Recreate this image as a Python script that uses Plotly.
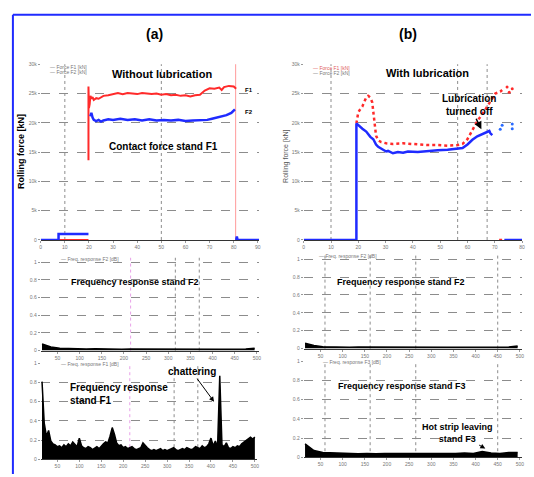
import plotly.graph_objects as go

W, H = 534, 477

# ---------------- data ----------------
# (a) top: rolling force without lubrication  (time s, force kN)
a_blue_t = [0, 7.4, 7.4, 19.8, None, 20.6, 21.0, 21.5, 22.0, 23.0, 24.0, 25.0, 26.0, 28.0, 30.0, 33.0, 36.0, 39.0,
            42.0, 45.0, 48.0, 51.0, 54.0, 57.0, 60.0, 63.0, 66.0, 69.0, 71.0, 73.0, 75.0, 77.0, 79.0, 80.5, None, 81.0, 81.3, 81.6, 90.5]
a_blue_f = [0, 0, 1000, 1000, None, 21100, 21700, 20900, 20500, 20300, 20500, 20200, 20400, 20600, 20500, 20700, 20500,
            20600, 20400, 20600, 20400, 20500, 20400, 20500, 20300, 20400, 20500, 20500, 20700, 20900, 21100, 21300, 21700, 22300,
            None, 0, 600, 0, 0]
a_red_t = [7.4, 19.8, None, 19.8, 19.8, 20.0, 20.3, 20.6, 21.0, 21.5, 22.0, 23.0, 24.0, 25.0, 26.0, 28.0, 30.0, 32.0, 34.0,
           36.0, 38.0, 40.0, 42.0, 44.0, 46.0, 48.0, 50.0, 52.0, 54.0, 56.0, 58.0, 60.0, 62.0, 64.0, 66.0, 68.0, 70.0,
           72.0, 74.0, 75.0, 76.0, 78.0, 80.0, 81.0, None, 81.0, 82.0]
a_red_f = [0, 0, None, 13600, 26200, 22500, 23200, 24600, 24100, 24400, 23900, 24200, 24100, 24400, 24600, 24700, 24900,
           25100, 24900, 25100, 25000, 24900, 25100, 25000, 24900, 25000, 24800, 24900, 24700, 24800, 24600, 24700, 24500,
           24700, 24800, 25500, 25900, 25800, 26000, 25600, 26100, 26300, 26200, 25800, None, 0, 0]

# (b) top: rolling force with lubrication
b_blue_t = [0, 19.3, 19.3, 20.0, 20.7, 21.5, 22.9, 24.4, 25.5, 26.5, 27.3, 28.4, 29.1, 30.2, 30.9, 32.7, 34.5, 36.4,
            38.2, 41.8, 45.5, 49.1, 52.7, 56.4, 58.2, 60.0, 61.8, 63.6, 66.2, 68.0, 68.4, 69.1, None, 73.5, 80.0]
b_blue_f = [0, 0, 19900, 19600, 19200, 19000, 18500, 17600, 17200, 16300, 15900, 15500, 15400, 15100, 15200, 14800,
            15000, 14900, 15100, 15000, 15200, 15300, 15400, 15600, 15700, 16300, 17100, 17700, 18200, 18600, 18200,
            17900, None, 0, 0]
b_blue_pts_t = [72.0, 72.7, 76.4, 76.4]
b_blue_pts_f = [18900, 19600, 19000, 19800]
b_red_t = [19.3, 19.6, 20.0, 20.7, 21.5, 22.2, 22.9, 23.6, 24.4, 25.1, 25.5, 26.2, 26.5, 27.3, 28.4, 30.2, 32.7, 36.4,
           41.8, 45.5, 49.1, 52.7, 56.4, 58.2, 60.0, 61.8, 63.6, 66.2, 68.0, 69.1, 70.2, 72.0, 72.7, None, 71.6, 73.5]
b_red_f = [19900, 21000, 21800, 22300, 22800, 23600, 24300, 24600, 24300, 23500, 22000, 19500, 17800, 17000, 16700,
           16500, 16400, 16500, 16300, 16200, 16200, 16100, 16200, 16400, 17200, 18800, 20300, 22000, 23300, 24300,
           25000, 25300, 25600, None, 0, 0]
b_red_pts_t = [74.5, 76.4, 75.3]
b_red_pts_f = [26100, 25800, 25200]

# frequency responses
freq_fine = [15 + 5 * i for i in range(98)]
spec_a_bottom = [0.81, 0.38, 0.24, 0.30, 0.19, 0.16, 0.15, 0.13, 0.14, 0.12, 0.15, 0.13, 0.16, 0.14, 0.18, 0.15,
                 0.13, 0.22, 0.14, 0.12, 0.11, 0.13, 0.12, 0.10, 0.12, 0.13, 0.11, 0.14, 0.16, 0.18, 0.17, 0.24,
                 0.33, 0.26, 0.17, 0.14, 0.15, 0.12, 0.13, 0.11, 0.12, 0.13, 0.11, 0.10, 0.11, 0.12, 0.17, 0.14,
                 0.12, 0.10, 0.09, 0.10, 0.09, 0.10, 0.11, 0.09, 0.10, 0.09, 0.10, 0.11, 0.12, 0.10, 0.09, 0.10,
                 0.11, 0.10, 0.12, 0.11, 0.10, 0.11, 0.13, 0.12, 0.11, 0.14, 0.12, 0.13, 0.16, 0.22, 0.14, 0.19,
                 0.13, 0.87, 0.15, 0.13, 0.17, 0.12, 0.11, 0.13, 0.12, 0.14, 0.13, 0.16, 0.18, 0.20, 0.22, 0.23,
                 0.21, 0.23]
freq_coarse = [15 + 20 * i for i in range(25)]
spec_a_mid = [0.075, 0.04, 0.025, 0.02, 0.02, 0.018, 0.02, 0.017, 0.018, 0.016, 0.017, 0.016, 0.015, 0.016, 0.015,
              0.016, 0.015, 0.016, 0.015, 0.016, 0.015, 0.016, 0.015, 0.018, 0.025]
spec_b_mid = [0.06, 0.035, 0.022, 0.018, 0.017, 0.016, 0.017, 0.016, 0.016, 0.015, 0.016, 0.015, 0.016, 0.015,
              0.015, 0.016, 0.015, 0.016, 0.015, 0.016, 0.015, 0.016, 0.015, 0.017, 0.03]
spec_b_bottom = [0.14, 0.07, 0.05, 0.045, 0.04, 0.04, 0.035, 0.04, 0.035, 0.04, 0.04, 0.035, 0.04, 0.035, 0.04,
                 0.04, 0.035, 0.04, 0.045, 0.04, 0.06, 0.045, 0.04, 0.05, 0.05]

# ---------------- layout helpers ----------------
def px(x):
    return x / W

def py(y):
    return 1 - y / H

BLUE = "#1f2bff"
RED = "#ff2a2a"
GRID = "#8c8c8c"
TICKF = dict(size=5, color="#777777", family="Liberation Sans")

fig = go.Figure()

# top traces
fig.add_trace(go.Scatter(x=a_red_t, y=a_red_f, mode="lines", line=dict(color=RED, width=2), xaxis="x", yaxis="y"))
fig.add_trace(go.Scatter(x=a_blue_t, y=a_blue_f, mode="lines", line=dict(color=BLUE, width=2.5), xaxis="x", yaxis="y"))
fig.add_trace(go.Scatter(x=b_red_t, y=b_red_f, mode="lines", line=dict(color=RED, width=2.5, dash="dot"), xaxis="x2", yaxis="y2"))
fig.add_trace(go.Scatter(x=b_red_pts_t, y=b_red_pts_f, mode="markers", marker=dict(color=RED, size=3), xaxis="x2", yaxis="y2"))
fig.add_trace(go.Scatter(x=b_blue_t, y=b_blue_f, mode="lines", line=dict(color=BLUE, width=2.5), xaxis="x2", yaxis="y2"))
fig.add_trace(go.Scatter(x=b_blue_pts_t, y=b_blue_pts_f, mode="markers", marker=dict(color="#2a6bff", size=3), xaxis="x2", yaxis="y2"))

# spectra
for xs, ys, ax in [(freq_coarse, spec_a_mid, "3"), (freq_coarse, spec_b_mid, "4"),
                   (freq_fine, spec_a_bottom, "5"), (freq_coarse, spec_b_bottom, "6")]:
    fig.add_trace(go.Scatter(x=xs, y=ys, mode="lines", fill="tozeroy", fillcolor="black",
                             line=dict(color="black", width=1.5), xaxis="x" + ax, yaxis="y" + ax))

xa = [px(40), px(260)]
xb = [px(305), px(525)]
dom_top = [py(240), py(62)]

common_y = dict(showgrid=True, gridcolor=GRID, griddash="dash", gridwidth=1, zeroline=False,
                tickfont=TICKF, ticks="outside", ticklen=2, tickcolor="#999", showline=False)
common_x = dict(showgrid=False, zeroline=False, tickfont=TICKF, ticks="outside", ticklen=2, tickcolor="#999",
                showline=True, linecolor="#333", linewidth=1)

layout = dict(
    width=W, height=H, autosize=False, showlegend=False,
    margin=dict(l=0, r=0, t=0, b=0),
    paper_bgcolor="white", plot_bgcolor="white",
    font=dict(family="Liberation Sans", color="black"),
    xaxis=dict(domain=xa, anchor="y", range=[0, 90.5], dtick=10, **common_x),
    yaxis=dict(domain=dom_top, anchor="x", range=[0, 30000], dtick=5000, **common_y),
    xaxis2=dict(domain=xb, anchor="y2", range=[0, 80], dtick=10, **common_x),
    yaxis2=dict(domain=dom_top, anchor="x2", range=[0, 30000], dtick=5000, **common_y),
    xaxis3=dict(domain=xa, anchor="y3", range=[12, 505], dtick=50, **common_x),
    yaxis3=dict(domain=[py(352), py(258)], anchor="x3", range=[0, 1.05], dtick=0.2, **common_y),
    xaxis4=dict(domain=xb, anchor="y4", range=[12, 505], dtick=50, **common_x),
    yaxis4=dict(domain=[py(350), py(255)], anchor="x4", range=[0, 1.05], dtick=0.2, **common_y),
    xaxis5=dict(domain=[px(40), px(258)], anchor="y5", range=[12, 505], dtick=50, **common_x),
    yaxis5=dict(domain=[py(462), py(365)], anchor="x5", range=[0, 1.0], dtick=0.2, **common_y),
    xaxis6=dict(domain=xb, anchor="y6", range=[12, 505], dtick=50, **common_x),
    yaxis6=dict(domain=[py(460), py(363)], anchor="x6", range=[0, 1.0], dtick=0.2, **common_y),
)
fig.update_layout(**layout)

shapes = []
# outer blue frame
shapes.append(dict(type="line", xref="paper", yref="paper", x0=px(12), y0=py(12), x1=1.0, y1=py(12),
                   line=dict(color=BLUE, width=2)))
shapes.append(dict(type="line", xref="paper", yref="paper", x0=px(12), y0=py(12), x1=px(12), y1=0,
                   line=dict(color=BLUE, width=2)))

def vline(xref, yref, x, color=GRID, dash="dot"):
    shapes.append(dict(type="line", xref=xref, yref=yref + " domain", x0=x, x1=x, y0=0, y1=1,
                       line=dict(color=color, width=1, dash=dash), layer="below"))

for x in [10, 50]:
    vline("x", "y", x)
vline("x", "y", 80.8, color="#ff9a9a", dash="solid")
for x in [10, 56.4, 67.2]:
    vline("x2", "y2", x)
for ax in ["3", "5"]:
    vline("x" + ax, "y" + ax, 215, color="#e8a0e8")
    vline("x" + ax, "y" + ax, 316)
    vline("x" + ax, "y" + ax, 370)
for ax in ["4", "6"]:
    vline("x" + ax, "y" + ax, 60)
    vline("x" + ax, "y" + ax, 162)
    vline("x" + ax, "y" + ax, 265)
    vline("x" + ax, "y" + ax, 450)
fig.update_layout(shapes=shapes)

ann = []

def txt(x, y, s, size=10, color="black", bold=True, xanchor="center", angle=0):
    ann.append(dict(xref="paper", yref="paper", x=px(x), y=py(y), text=("<b>%s</b>" % s) if bold else s,
                    showarrow=False, xanchor=xanchor, yanchor="middle", textangle=angle,
                    font=dict(size=size, color=color, family="Liberation Sans")))

txt(155, 31, "(a)", size=14)
txt(410, 31, "(b)", size=14)
txt(162, 72, "Without lubrication", size=11)
txt(164, 145, "Contact force stand F1", size=10)
txt(430, 71, "With lubrication", size=11)
txt(20, 150, "Rolling force [kN]", size=9, angle=-90)
txt(287, 155, "Rolling force [kN]", size=7, color="#555", bold=False, angle=-90)
txt(250, 88, "F1", size=6)
txt(250, 110, "F2", size=6)
txt(135, 283, "Frequency response stand F2", size=9)
txt(68, 389, "Frequency response", size=10, xanchor="left")
txt(68, 403, "stand F1", size=10, xanchor="left")
txt(403, 283, "Frequency response stand F2", size=9)
txt(404, 388, "Frequency response stand F3", size=9)
# tiny legends
txt(47, 65, "— Force F1 [kN]", size=5, color="#777", bold=False, xanchor="left")
txt(47, 70, "— Force F2 [kN]", size=5, color="#777", bold=False, xanchor="left")
txt(312, 66, "— Force F1 [kN]", size=5, color="#e06060", bold=False, xanchor="left")
txt(312, 71, "— Force F2 [kN]", size=5, color="#777", bold=False, xanchor="left")
txt(58, 259, "— Freq. response F2 [dB]", size=5, color="#777", bold=False, xanchor="left")
txt(58, 366, "— Freq. response F1 [dB]", size=5, color="#777", bold=False, xanchor="left")
txt(318, 256, "— Freq. response F2 [dB]", size=5, color="#777", bold=False, xanchor="left")
txt(322, 364, "— Freq. response F3 [dB]", size=5, color="#777", bold=False, xanchor="left")

ann.append(dict(xref="x5", yref="y5", x=407, y=0.6, text="<b>chattering</b>", showarrow=True,
                arrowhead=2, arrowsize=1, arrowwidth=1, arrowcolor="black", ax=-22, ay=-30,
                font=dict(size=10, color="black", family="Liberation Sans")))
ann.append(dict(xref="x2", yref="y2", x=65.1, y=18900, text="<b>Lubrication<br>turned off</b>", showarrow=True,
                arrowhead=2, arrowsize=1, arrowwidth=1.5, arrowcolor="black", ax=-12, ay=-24,
                font=dict(size=10, color="black", family="Liberation Sans")))
ann.append(dict(xref="x6", yref="y6", x=422, y=0.09, text="<b>Hot strip leaving<br>stand F3</b>", showarrow=True,
                arrowhead=2, arrowsize=1, arrowwidth=1, arrowcolor="black", ax=-28, ay=-16,
                font=dict(size=9, color="black", family="Liberation Sans")))
fig.update_layout(annotations=ann)

fig.write_html("out.html", config={"displayModeBar": False},
               post_script="document.body.style.margin='0px';document.body.style.overflow='hidden';")
